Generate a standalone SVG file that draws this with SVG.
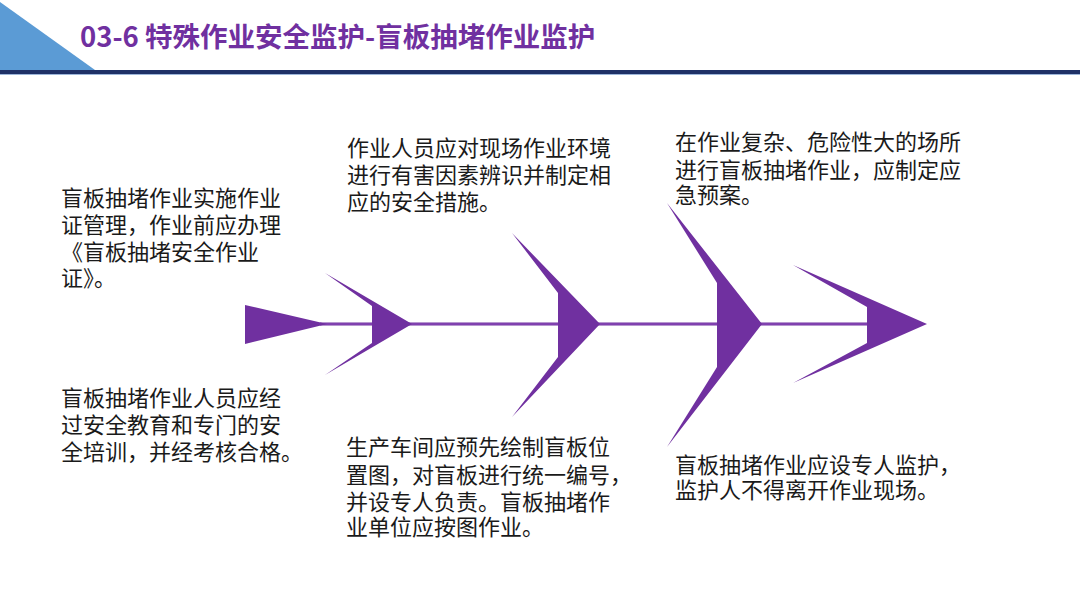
<svg xmlns="http://www.w3.org/2000/svg" width="1080" height="608" viewBox="0 0 1080 608">
<style>
.t{font-family:"Noto Sans CJK SC","Microsoft YaHei",sans-serif;font-size:22px;fill:#1a1a1a}
.title{font-family:"Noto Sans CJK SC",sans-serif;font-size:27.5px;font-weight:bold;fill:#7030A0}
.bone{fill:#7030A0}
</style>
<rect width="1080" height="608" fill="#ffffff"/>
<g id="header">
<polygon points="0,2 95,70 0,70" fill="#5B9BD5"/>
<rect x="0" y="70" width="1080" height="4" fill="#1F3167"/>
<rect x="0" y="74" width="1080" height="1" fill="#9DB6DA"/>
<text class="title" x="80" y="47">03-6 特殊作业安全监护-盲板抽堵作业监护</text>
</g>
<g id="connectors">
<line x1="320" y1="324" x2="870" y2="324" stroke="#7030A0" stroke-width="3"/>
<line x1="320" y1="324" x2="870" y2="324" stroke="#9a5cc6" stroke-width="0.8"/>
<polygon id="tail" class="bone" points="245,305 327,324 245,344"/>
</g>
<g id="bone1"><polygon class="bone" points="325,273 412,324 325,375 372,343 372,306"/></g>
<g id="bone2"><polygon class="bone" points="512,233 600,324 512,417 558,357 558,293"/></g>
<g id="bone3"><polygon class="bone" points="667,203 762,324 667,447 717,367 717,283"/></g>
<g id="bone4"><polygon class="bone" points="793,265 927,324 793,383 867,343 867,307"/></g>
<g id="text1">
<text class="t" x="61" y="206">盲板抽堵作业实施作业</text>
<text class="t" x="61" y="233">证管理，作业前应办理</text>
<text class="t" x="61" y="260">《盲板抽堵安全作业</text>
<text class="t" x="61" y="286">证》。</text>
</g>
<g id="text2">
<text class="t" x="347" y="156">作业人员应对现场作业环境</text>
<text class="t" x="347" y="183">进行有害因素辨识并制定相</text>
<text class="t" x="347" y="210">应的安全措施。</text>
</g>
<g id="text3">
<text class="t" x="675" y="150">在作业复杂、危险性大的场所</text>
<text class="t" x="675" y="178">进行盲板抽堵作业，应制定应</text>
<text class="t" x="675" y="203">急预案。</text>
</g>
<g id="text4">
<text class="t" x="61" y="406">盲板抽堵作业人员应经</text>
<text class="t" x="61" y="433">过安全教育和专门的安</text>
<text class="t" x="61" y="460">全培训，并经考核合格。</text>
</g>
<g id="text5">
<text class="t" x="346" y="455">生产车间应预先绘制盲板位</text>
<text class="t" x="346" y="483">置图，对盲板进行统一编号，</text>
<text class="t" x="346" y="510">并设专人负责。盲板抽堵作</text>
<text class="t" x="346" y="535">业单位应按图作业。</text>
</g>
<g id="text6">
<text class="t" x="675" y="473">盲板抽堵作业应设专人监护，</text>
<text class="t" x="675" y="498">监护人不得离开作业现场。</text>
</g>
</svg>
